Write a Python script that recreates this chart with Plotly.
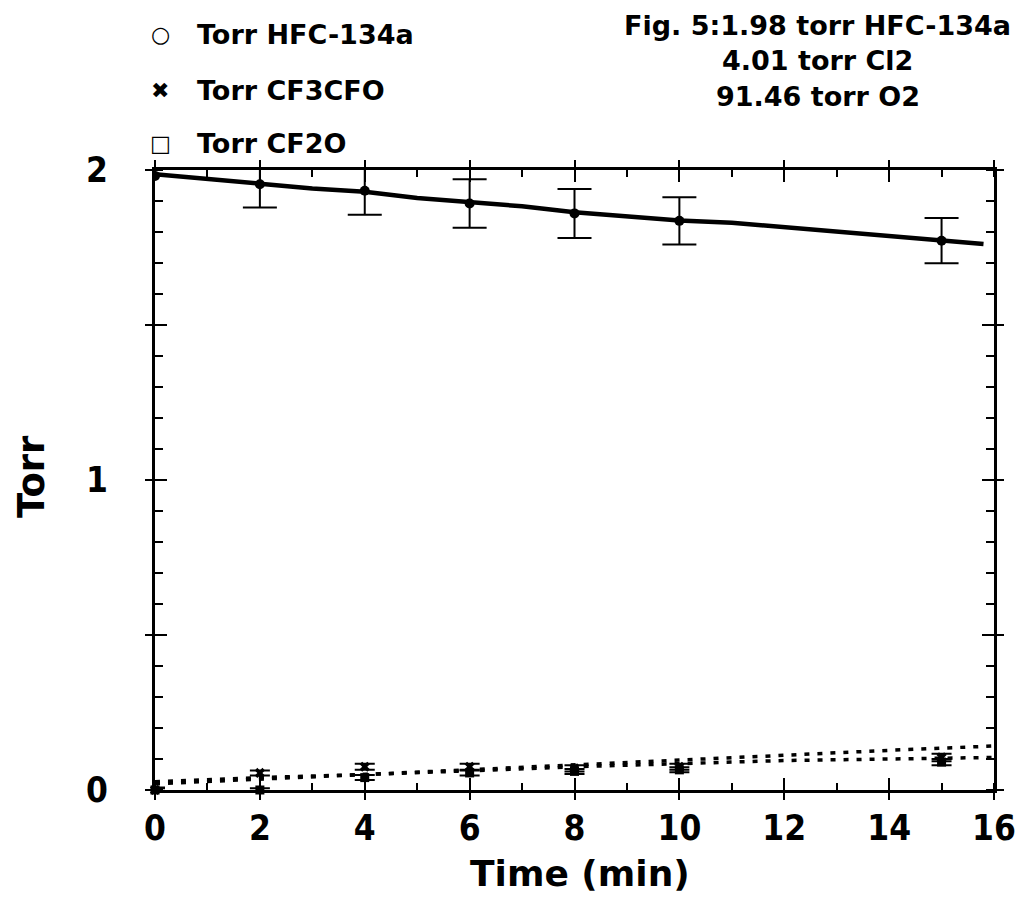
import plotly.graph_objects as go

# ---- data ----
time_pts = [0, 2, 4, 6, 8, 10, 15]
hfc_torr = [1.981, 1.954, 1.933, 1.892, 1.860, 1.836, 1.772]
hfc_err = [0.0, 0.075, 0.077, 0.078, 0.079, 0.076, 0.073]
cf3cfo_torr = [0.0, 0.055, 0.075, 0.075, 0.070, 0.075, 0.105]
cf3cfo_err = [0.008, 0.008, 0.010, 0.010, 0.010, 0.010, 0.012]
cf2o_torr = [0.0, 0.0, 0.040, 0.055, 0.060, 0.065, 0.090]
cf2o_err = [0.006, 0.006, 0.008, 0.008, 0.008, 0.008, 0.010]

fit_time = [0, 1, 2, 3, 4, 5, 6, 7, 8, 9, 10, 11, 12, 13, 14, 15, 15.8]
hfc_fit = [1.986, 1.972, 1.956, 1.940, 1.930, 1.910, 1.896, 1.883, 1.864,
           1.850, 1.837, 1.830, 1.815, 1.800, 1.787, 1.773, 1.761]

prod_fit_time = [0, 2, 4, 6, 8, 10, 12, 14, 16]
cf3cfo_fit = [0.027, 0.040, 0.050, 0.065, 0.080, 0.095, 0.112, 0.128, 0.142]
cf2o_fit = [0.020, 0.035, 0.050, 0.062, 0.075, 0.085, 0.095, 0.100, 0.105]

x_ticks = [0, 2, 4, 6, 8, 10, 12, 14, 16]
y_ticks = [0, 0.5, 1, 1.5, 2]
y_ticktext = ["0", "", "1", "", "2"]

legend_names = ["Torr HFC-134a", "Torr CF3CFO", "Torr CF2O"]
legend_glyphs = ["○", "✖", "□"]
note_lines = ["Fig. 5:1.98 torr HFC-134a", "4.01 torr Cl2", "91.46 torr O2"]

FONT = "DejaVu Sans"
TICKFONT = "DejaVu Sans Condensed, DejaVu Sans"
BLACK = "#000000"

fig = go.Figure()

# fitted curves
fig.add_trace(go.Scatter(x=fit_time, y=hfc_fit, mode="lines",
                         line=dict(color=BLACK, width=4.5), showlegend=False,
                         hoverinfo="skip"))
fig.add_trace(go.Scatter(x=prod_fit_time, y=cf3cfo_fit, mode="lines",
                         line=dict(color=BLACK, width=3.5, dash="5px,8px"),
                         showlegend=False, cliponaxis=False))
fig.add_trace(go.Scatter(x=prod_fit_time, y=cf2o_fit, mode="lines",
                         line=dict(color=BLACK, width=3.5, dash="5px,8px"),
                         showlegend=False, cliponaxis=False))

# data points
fig.add_trace(go.Scatter(x=time_pts, y=hfc_torr, mode="markers", name=legend_names[0],
                         marker=dict(color=BLACK, size=10, symbol="circle"),
                         error_y=dict(type="data", array=hfc_err, color=BLACK,
                                      thickness=2, width=17),
                         showlegend=False))
fig.add_trace(go.Scatter(x=time_pts, y=cf3cfo_torr, mode="markers", name=legend_names[1],
                         marker=dict(color=BLACK, size=9, symbol="x"),
                         error_y=dict(type="data", array=cf3cfo_err, color=BLACK,
                                      thickness=2, width=10),
                         showlegend=False, cliponaxis=False))
fig.add_trace(go.Scatter(x=time_pts, y=cf2o_torr, mode="markers", name=legend_names[2],
                         marker=dict(color=BLACK, size=9, symbol="square"),
                         error_y=dict(type="data", array=cf2o_err, color=BLACK,
                                      thickness=2, width=10),
                         showlegend=False, cliponaxis=False))

axis_common = dict(showline=True, linecolor=BLACK, linewidth=3, mirror="ticks",
                   ticks="outside", ticklen=7, tickwidth=2, tickcolor=BLACK,
                   showgrid=False, zeroline=False, automargin=False,
                   tickfont=dict(family=TICKFONT, size=35, color=BLACK, weight="bold"))

# the page body adds an 8px margin on every side, so the canvas is 16px smaller
fig.update_layout(
    width=1008, height=888,
    paper_bgcolor="white", plot_bgcolor="white",
    margin=dict(l=147, r=22, t=162, b=106),
    showlegend=False,
    xaxis=dict(range=[0, 16], tickmode="array", tickvals=x_ticks,
               minor=dict(ticks="inside", dtick=1, tick0=0, ticklen=7,
                          tickwidth=2, tickcolor=BLACK),
               ticklabelstandoff=-2,
               **axis_common),
    yaxis=dict(range=[0, 2], tickmode="array", tickvals=y_ticks,
               ticktext=y_ticktext,
               minor=dict(ticks="inside", dtick=0.1, tick0=0, ticklen=8,
                          tickwidth=2, tickcolor=BLACK),
               ticklabelstandoff=30,
               **axis_common),
    xaxis2=dict(range=[0, 16], overlaying="x", side="bottom", tickmode="array",
                tickvals=x_ticks, ticks="inside", ticklen=12, tickwidth=2,
                tickcolor=BLACK, showticklabels=False, showline=False,
                mirror="ticks", showgrid=False, zeroline=False, automargin=False),
    yaxis2=dict(range=[0, 2], overlaying="y", side="left", tickmode="array",
                tickvals=y_ticks, ticks="inside", ticklen=12, tickwidth=2,
                tickcolor=BLACK, showticklabels=False, showline=False,
                mirror="ticks", showgrid=False, zeroline=False, automargin=False),
)

# dummy trace to activate overlay axes (no visible marks)
fig.add_trace(go.Scatter(x=[None], y=[None], xaxis="x2", yaxis="y2",
                         showlegend=False, mode="markers"))

# legend drawn as text (symbol glyph + label)
legend_y = [1.218, 1.129, 1.042]
for glyph, nm, yy in zip(legend_glyphs, legend_names, legend_y):
    fig.add_annotation(text=glyph, xref="paper", yref="paper", x=0.006, y=yy,
                       xanchor="center", yanchor="middle", showarrow=False,
                       font=dict(family=FONT, size=22, color=BLACK, weight="bold"))
    fig.add_annotation(text=nm, xref="paper", yref="paper", x=0.048, y=yy,
                       xanchor="left", yanchor="middle", showarrow=False,
                       font=dict(family=FONT, size=27, color=BLACK, weight="bold"))

# axis titles
fig.add_annotation(text="Time (min)", xref="paper", yref="paper", x=0.507,
                   y=-0.135, xanchor="center", yanchor="middle", showarrow=False,
                   font=dict(family=FONT, size=36, color=BLACK, weight="bold"))
fig.add_annotation(text="Torr", xref="paper", yref="paper", x=-0.147,
                   y=0.506, xanchor="center", yanchor="middle", showarrow=False,
                   textangle=-90,
                   font=dict(family=FONT, size=37, color=BLACK, weight="bold"))

# figure note
note_y = [1.233, 1.177, 1.118]
for line, yy in zip(note_lines, note_y):
    fig.add_annotation(text=line, xref="paper", yref="paper", x=0.790, y=yy,
                       xanchor="center", yanchor="middle", showarrow=False,
                       font=dict(family=FONT, size=27, color=BLACK, weight="bold"))

fig.write_html("out.html")
